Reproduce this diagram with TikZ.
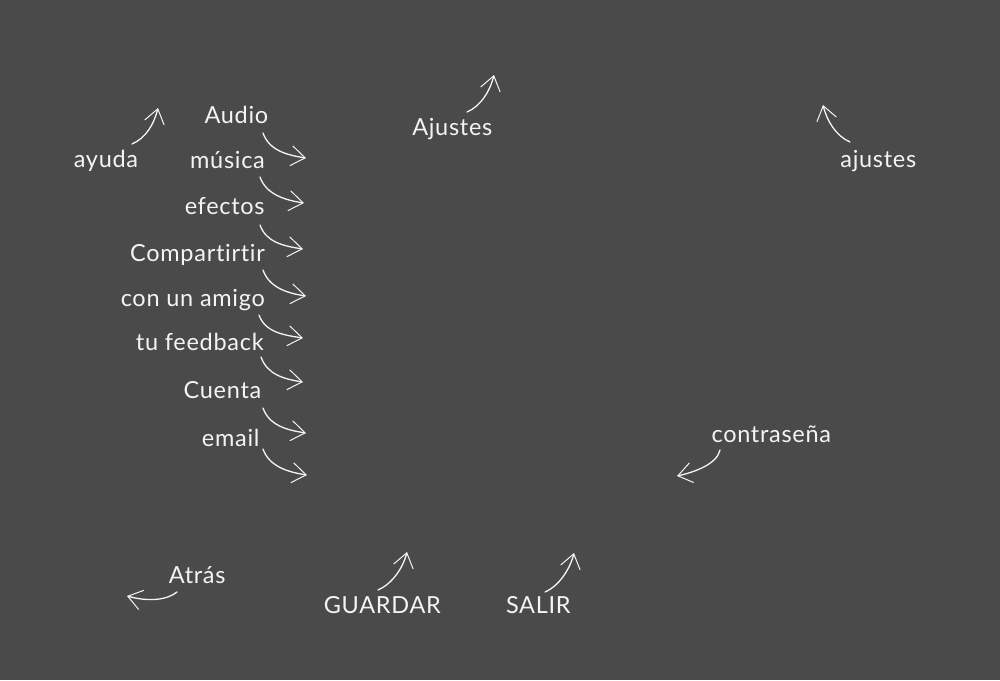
\documentclass[tikz,border=0pt]{standalone}
\usepackage{fontspec}
\setmainfont{Lato}[Ligatures={NoCommon},LetterSpace=3]
\usetikzlibrary{arrows.meta}
\definecolor{board}{HTML}{4A4A4A}
\definecolor{chalk}{HTML}{F4F4F4}
\begin{document}
\begin{tikzpicture}[x=1pt,y=-1pt,
  lbl/.style={text=chalk,anchor=base,inner sep=0pt,font=\fontsize{23.5}{28}\selectfont},
  hand/.style={draw=chalk,line width=1.3pt,line cap=round,
    -{Straight Barb[length=14pt,width=20pt,line width=1pt]}}]
\useasboundingbox[fill=board] (0,0) rectangle (1000,680);

% labels
\node[lbl] (audio)   at (236.4,123.3) {Audio};
\node[lbl] (ayuda)   at (106,167.7)   {ayuda};
\node[lbl] (musica)  at (227.5,168.3) {música};
\node[lbl] (efectos) at (224.7,214)   {efectos};
\node[lbl] (compart) at (197.5,261.7) {Compartirtir};
\node[lbl] (amigo)   at (192.8,306)   {con un amigo};
\node[lbl] (feedb)   at (199.8,350)   {tu feedback};
\node[lbl] (cuenta)  at (222.5,398.3) {Cuenta};
\node[lbl] (email)   at (230.7,446)   {email};
\node[lbl] (ajustesA) at (452.3,135)  {Ajustes};
\node[lbl] (ajustesB) at (878.3,167.3) {ajustes};
\node[lbl] (contra)  at (771.3,442.7) {contraseña};
\node[lbl] (atras)   at (197.2,583.3) {Atrás};
\node[lbl] (guardar) at (382.3,613.3) {GUARDAR};
\node[lbl] (salir)   at (538.3,613)   {SALIR};

% arrow ends
\coordinate (s1) at (263,133); \coordinate (t1) at (306,158);
\coordinate (s2) at (260,177); \coordinate (t2) at (304,203);
\coordinate (s3) at (260,225); \coordinate (t3) at (303,249);
\coordinate (s4) at (263,270); \coordinate (t4) at (306,296);
\coordinate (s5) at (259,315); \coordinate (t5) at (303,338);
\coordinate (s6) at (261,357); \coordinate (t6) at (303,382);
\coordinate (s7) at (263,408); \coordinate (t7) at (306,433);
\coordinate (s8) at (263,449); \coordinate (t8) at (307,475);
\coordinate (sa) at (132,144); \coordinate (ta) at (158,108);
\coordinate (sb) at (467,112); \coordinate (tb) at (494,75);
\coordinate (sc) at (850,142); \coordinate (tc) at (823,105);
\coordinate (sd) at (720,450); \coordinate (td) at (677,476);
\coordinate (se) at (177,592); \coordinate (te) at (127,596);
\coordinate (sf) at (378,590); \coordinate (tf) at (407,552);
\coordinate (sg) at (545,592); \coordinate (tg) at (574,553);

% list arrows
\foreach \i in {1,...,8}
  \draw[hand] (s\i) .. controls +(6,17) and +(-20,-3) .. (t\i);

% upward arrows
\foreach \i in {a,b,f,g}
  \draw[hand] (s\i) .. controls +(14,-6) and +(-4,16) .. (t\i);
\draw[hand] (sc) .. controls +(-14,-6) and +(4,16) .. (tc);
% leftward arrows
\draw[hand] (sd) .. controls +(-3,14) and +(18,-4) .. (td);
\draw[hand] (se) .. controls +(-10,8) and +(22,6) .. (te);
\end{tikzpicture}
\end{document}
